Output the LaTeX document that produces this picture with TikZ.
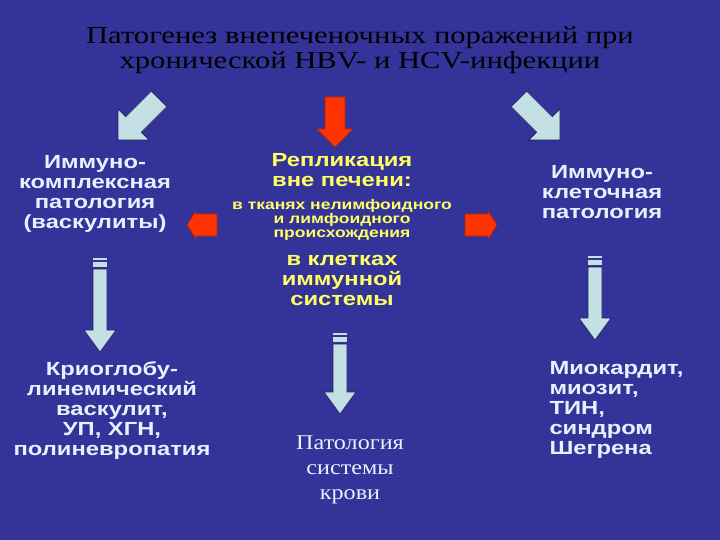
\documentclass[tikz,border=0pt]{standalone}
\usepackage{fontspec}
\setmainfont{Liberation Serif}[FakeStretch=1.25]
\newfontfamily\sansb{Liberation Sans}[FakeStretch=1.25]
\definecolor{bg}{HTML}{333399}
\definecolor{lt}{HTML}{E6F2FF}
\definecolor{arr}{HTML}{C4E0E4}
\definecolor{yel}{HTML}{FFFF66}
\definecolor{red1}{HTML}{FF3300}
\newcommand\blockarr[6]{%
 \begin{scope}[shift={(#1)},rotate=#2]
 \path[fill=arr,draw=bg!60!black,line width=0.6pt] (-#4,-#3)--(#4,-#3)--(#4,-#6)--(#5,-#6)--(0,0)--(-#5,-#6)--(-#4,-#6)--cycle;
 \end{scope}}
\newcommand\redarr[6]{%
 \begin{scope}[shift={(#1)},rotate=#2]
 \path[fill=red1,draw=red1!70!black,line width=0.6pt] (-#4,-#3)--(#4,-#3)--(#4,-#6)--(#5,-#6)--(0,0)--(-#5,-#6)--(-#4,-#6)--cycle;
 \end{scope}}
\newcommand\striparr[3]{%
 \begin{scope}[shift={(#1,#3)}]
 \fill[arr] (-7,-#3+#2)rectangle(7,-#3+#2+2);
 \fill[arr] (-7,-#3+#2+4)rectangle(7,-#3+#2+9);
 \path[fill=arr,draw=bg!60!black,line width=0.6pt] (-7,-#3+#2+11)--(7,-#3+#2+11)--(7,-22)--(16,-22)--(0,0)--(-16,-22)--(-7,-22)--cycle;
 \end{scope}}
\begin{document}
\begin{tikzpicture}[x=1pt,y=-1pt,
 sb/.style={font=\sansb\bfseries\fontsize{19}{20}\selectfont,text=lt,align=center},
 yb/.style={font=\sansb\bfseries\fontsize{19}{20}\selectfont,text=yel,align=center},
 ys/.style={font=\sansb\bfseries\fontsize{14}{14}\selectfont,text=yel,align=center}]
\fill[bg] (0,0) rectangle (720,540);
\useasboundingbox (0,0) rectangle (720,540);
\node[font=\fontsize{24.5}{25}\selectfont,align=center] (title) at (360,50) {Патогенез внепеченочных поражений при\\хронической HBV- и HCV-инфекции};
\blockarr{118,140}{-45}{58}{11}{22}{22}
\redarr{335,147}{0}{50}{10}{18}{18}
\blockarr{560,140}{45}{58}{11}{22}{22}
\redarr{187,225}{-90}{30}{11}{14}{9}
\redarr{497,225}{90}{32}{11}{14}{9}
\striparr{100}{258}{352}
\striparr{340}{333}{414}
\striparr{595}{256}{340}
\node[sb] (imk) at (95,194) {Иммуно-\\комплексная\\патология\\(васкулиты)};
\node[yb] (rep) at (342,170) {Репликация\\вне печени:};
\node[ys] (tk) at (342,220) {в тканях нелимфоидного\\и лимфоидного\\происхождения};
\node[yb] (kl) at (342,280) {в клетках\\иммунной\\системы};
\node[sb] (ikl) at (602,192) {Иммуно-\\клеточная\\патология};
\node[sb] (kri) at (112,411) {Криоглобу-\\линемический\\васкулит,\\УП, ХГН,\\полиневропатия};
\node[font=\fontsize{21}{25}\selectfont\addfontfeature{FakeStretch=1.15},text=lt,align=center] (pat) at (350,470) {Патология\\системы\\крови};
\node[sb,align=left,anchor=west] (mio) at (546,410) {Миокардит,\\миозит,\\ТИН,\\синдром\\Шегрена};
\end{tikzpicture}
\end{document}
